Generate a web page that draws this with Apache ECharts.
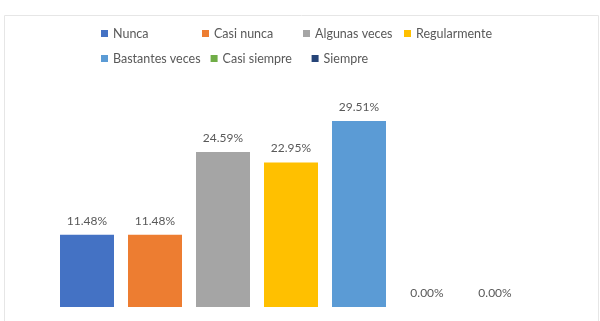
<!DOCTYPE html>
<html>
<head>
<meta charset="utf-8">
<script src="https://cdn.jsdelivr.net/npm/echarts@6/dist/echarts.min.js"></script>
<style>
	html, body { margin: 0; padding: 0; background: #fff; }
	#chart { width: 600px; height: 321px; }
</style>
</head>
<body>
<div id="chart"></div>
<script>
var names = ['Nunca', 'Casi nunca', 'Algunas veces', 'Regularmente', 'Bastantes veces', 'Casi siempre', 'Siempre'];
var values = [11.48, 11.48, 24.59, 22.95, 29.51, 0.00, 0.00];
var colors = ['#4472C4', '#ED7D31', '#A5A5A5', '#FFC000', '#5B9BD5', '#70AD47', '#264478'];

(function() {
	var myChart = echarts.init(document.getElementById('chart'));

	// one series per answer, each with a single bar in its own slot
	var series = names.map(function(name, i) {
		var data = names.map(function(n, j) {
			return j === i ? values[i] : '-';
		});
		return {
			name: name,
			type: 'bar',
			stack: 'all',
			barWidth: 54,
			data: data,
			itemStyle: { color: colors[i] },
			label: {
				show: true,
				position: 'top',
				distance: 8,
				color: '#595959',
				fontFamily: 'Lato',
				fontSize: 12,
				formatter: function(p) {
					return p.value.toFixed(2) + '%';
				}
			}
		};
	});

	var option = {
		animation: false,
		color: colors,
		graphic: [{
			type: 'rect',
			left: 2,
			top: 13,
			shape: { width: 594, height: 330 },
			style: { fill: 'none', stroke: '#e6e6e6', lineWidth: 1 },
			silent: true
		}],
		legend: {
			data: names,
			left: 101,
			top: 26,
			width: 410,
			padding: 0,
			itemWidth: 7,
			itemHeight: 7,
			itemGap: 10,
			icon: 'rect',
			textStyle: {
				color: '#595959',
				fontFamily: 'Lato',
				fontSize: 12.5,
				width: 79,
				lineHeight: 15
			}
		},
		grid: {
			left: 53,
			right: 71,
			top: 86.5,
			bottom: 14
		},
		xAxis: {
			type: 'category',
			data: names,
			axisLine: { show: false },
			axisTick: { show: false },
			axisLabel: { show: false }
		},
		yAxis: {
			type: 'value',
			min: 0,
			max: 35,
			show: false,
			splitLine: { show: false }
		},
		series: series
	};

	myChart.setOption(option);
})();
</script>
</body>
</html>
